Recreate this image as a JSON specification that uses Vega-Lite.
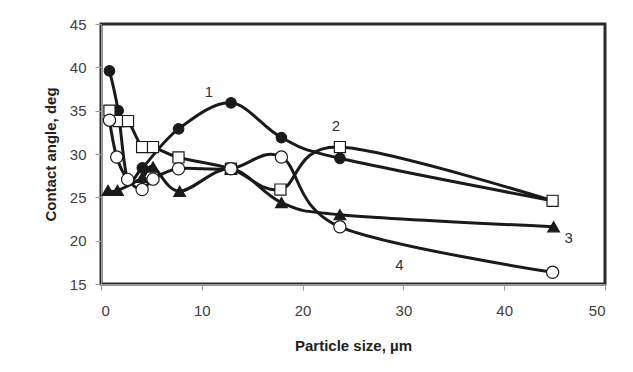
{
  "$schema": "https://vega.github.io/schema/vega-lite/v6.json",
  "width": 504,
  "height": 260,
  "autosize": "none",
  "padding": {"left": 101, "top": 24, "right": 28, "bottom": 88},
  "background": "white",
  "config": {
    "view": {"stroke": "#2a2a2a", "strokeWidth": 3},
    "font": "Liberation Sans",
    "axis": {"grid": false, "domainColor": "#999999", "tickColor": "#999999", "labelColor": "#404040", "titleColor": "#222222", "labelFontSize": 15, "titleFontSize": 15, "titleFontWeight": "bold", "tickSize": 6, "labelFont": "Liberation Sans", "titleFont": "Liberation Sans"}
  },
  "datasets": {
    "pts": [
      {"series": "1", "x": 0.84, "y": 39.6},
      {"series": "1", "x": 1.7, "y": 35.0},
      {"series": "1", "x": 2.64, "y": 27.1},
      {"series": "1", "x": 4.1, "y": 28.4},
      {"series": "1", "x": 7.7, "y": 32.9},
      {"series": "1", "x": 12.9, "y": 35.9},
      {"series": "1", "x": 17.9, "y": 31.9},
      {"series": "1", "x": 23.7, "y": 29.5},
      {"series": "1", "x": 44.8, "y": 24.6},
      {"series": "2", "x": 0.84, "y": 35.0},
      {"series": "2", "x": 1.76, "y": 33.8},
      {"series": "2", "x": 2.68, "y": 33.8},
      {"series": "2", "x": 4.08, "y": 30.8},
      {"series": "2", "x": 5.16, "y": 30.8},
      {"series": "2", "x": 7.69, "y": 29.6},
      {"series": "2", "x": 12.89, "y": 28.3},
      {"series": "2", "x": 17.8, "y": 25.9},
      {"series": "2", "x": 23.7, "y": 30.8},
      {"series": "2", "x": 44.8, "y": 24.6},
      {"series": "3", "x": 0.7, "y": 25.8},
      {"series": "3", "x": 1.64, "y": 25.8},
      {"series": "3", "x": 4.1, "y": 27.3},
      {"series": "3", "x": 5.16, "y": 28.5},
      {"series": "3", "x": 7.8, "y": 25.7},
      {"series": "3", "x": 12.89, "y": 28.3},
      {"series": "3", "x": 17.9, "y": 24.4},
      {"series": "3", "x": 23.7, "y": 23.0},
      {"series": "3", "x": 44.9, "y": 21.6},
      {"series": "4", "x": 0.84, "y": 33.9},
      {"series": "4", "x": 1.56, "y": 29.65},
      {"series": "4", "x": 2.64, "y": 27.07},
      {"series": "4", "x": 4.08, "y": 25.9},
      {"series": "4", "x": 5.16, "y": 27.1},
      {"series": "4", "x": 7.69, "y": 28.3},
      {"series": "4", "x": 12.89, "y": 28.3},
      {"series": "4", "x": 17.9, "y": 29.65},
      {"series": "4", "x": 23.7, "y": 21.6},
      {"series": "4", "x": 44.8, "y": 16.35}
    ],
    "labels": [
      {"label": "1", "x": 10.7, "y": 37.1},
      {"label": "2", "x": 23.3, "y": 33.2},
      {"label": "3", "x": 46.4, "y": 20.3},
      {"label": "4", "x": 29.6, "y": 17.2}
    ]
  },
  "layer": [
    {
      "data": {"name": "pts"},
      "mark": {"type": "line", "interpolate": "cardinal", "color": "#1a1a1a", "strokeWidth": 3},
      "encoding": {
        "x": {"field": "x", "type": "quantitative", "scale": {"domain": [0, 50], "nice": false}, "axis": {"values": [0, 10, 20, 30, 40, 50], "title": "Particle size, µm", "titlePadding": 20, "labelPadding": 13}},
        "y": {"field": "y", "type": "quantitative", "scale": {"domain": [15, 45], "nice": false, "zero": false}, "axis": {"values": [15, 20, 25, 30, 35, 40, 45], "title": "Contact angle, deg", "titlePadding": 11, "labelPadding": 9}},
        "detail": {"field": "series", "type": "nominal"}
      }
    },
    {
      "data": {"name": "pts"},
      "mark": {"type": "point", "filled": true, "stroke": "#1a1a1a", "strokeWidth": 1.2, "opacity": 1},
      "encoding": {
        "x": {"field": "x", "type": "quantitative"},
        "y": {"field": "y", "type": "quantitative"},
        "shape": {"field": "series", "type": "nominal", "scale": {"domain": ["1", "2", "3", "4"], "range": ["circle", "square", "triangle-up", "circle"]}, "legend": null},
        "fill": {"field": "series", "type": "nominal", "scale": {"domain": ["1", "2", "3", "4"], "range": ["#1a1a1a", "#ffffff", "#1a1a1a", "#ffffff"]}, "legend": null},
        "size": {"field": "series", "type": "nominal", "scale": {"domain": ["1", "2", "3", "4"], "range": [110, 150, 110, 115]}, "legend": null}
      }
    },
    {
      "data": {"name": "labels"},
      "mark": {"type": "text", "fontSize": 15, "color": "#333333", "font": "Liberation Sans"},
      "encoding": {
        "x": {"field": "x", "type": "quantitative"},
        "y": {"field": "y", "type": "quantitative"},
        "text": {"field": "label", "type": "nominal"}
      }
    }
  ]
}
